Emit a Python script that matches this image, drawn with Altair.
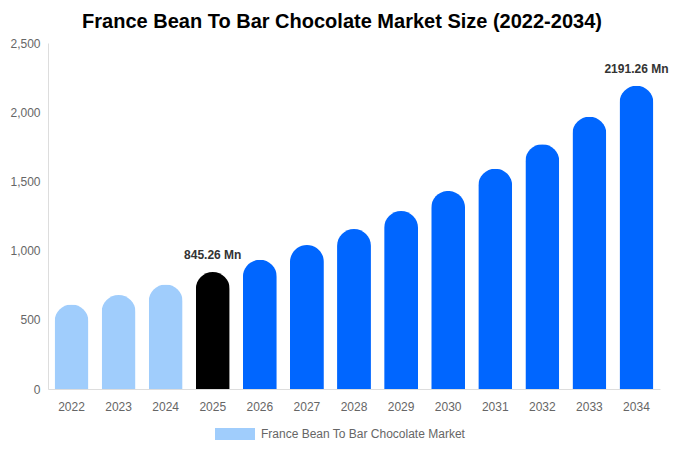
import altair as alt
import pandas as pd

years = ["2022", "2023", "2024", "2025", "2026", "2027", "2028", "2029",
         "2030", "2031", "2032", "2033", "2034"]
values = [610, 679, 755, 845.26, 934, 1040, 1156, 1286, 1431, 1592, 1768, 1968, 2191.26]
bar_colors = ["#a0cdfc", "#a0cdfc", "#a0cdfc", "#000000"] + ["#0066ff"] * 9
labels = ["", "", "", "845.26 Mn", "", "", "", "", "", "", "", "", "2191.26 Mn"]
series_name = "France Bean To Bar Chocolate Market"

df = pd.DataFrame({
    "year": years,
    "value": values,
    "barcolor": bar_colors,
    "label": labels,
    "series": [series_name] * len(years),
})

FONT = "Liberation Sans"

x = alt.X("year:N", title=None, sort=years,
          scale=alt.Scale(paddingInner=0.28, paddingOuter=0.14),
          axis=alt.Axis(labelAngle=0, ticks=False, labelPadding=12, labelColor="#666666",
                        labelFontSize=12, domainColor="#dddddd", labelFont=FONT))
y = alt.Y("value:Q", title=None,
          scale=alt.Scale(domain=[0, 2500]),
          axis=alt.Axis(values=[0, 500, 1000, 1500, 2000, 2500], format=",.0f", ticks=False,
                        labelPadding=8, labelColor="#666666", labelFontSize=12, grid=False,
                        domainColor="#dddddd", labelFont=FONT))

base = alt.Chart(df)

bars = base.mark_bar(cornerRadiusTopLeft=17, cornerRadiusTopRight=17).encode(
    x=x, y=y,
    fill=alt.Fill("barcolor:N", scale=None, legend=None),
)

legend_layer = base.mark_bar(opacity=0).encode(
    x=x, y=y,
    color=alt.Color("series:N", title=None,
                    scale=alt.Scale(range=["#a0cdfc"]),
                    legend=alt.Legend(orient="none", legendX=167, legendY=371,
                                      direction="horizontal",
                                      symbolType="M-1,-0.3L1,-0.3L1,0.3L-1,0.3Z",
                                      symbolSize=1600, symbolOpacity=1, labelFontSize=12,
                                      labelColor="#666666", labelFont=FONT, labelLimit=400,
                                      labelOffset=6, symbolStrokeWidth=0)),
)

text = base.mark_text(dy=-10, baseline="bottom", fontWeight="bold", fontSize=12,
                      color="#333333", font=FONT).encode(
    x=x, y=y, text="label:N",
)

chart = alt.layer(bars, legend_layer, text).properties(
    width=612, height=346,
    autosize=alt.AutoSizeParams(type="none"),
    padding={"left": 40, "top": 35, "right": 12, "bottom": 52},
    title=alt.Title("France Bean To Bar Chocolate Market Size (2022-2034)",
                    fontSize=20, fontWeight="bold", color="#000000", font=FONT,
                    anchor="middle", frame="group", dx=-12, offset=5),
).configure_view(stroke=None)

chart.save("out.html", embed_options={"renderer": "svg", "actions": False})
